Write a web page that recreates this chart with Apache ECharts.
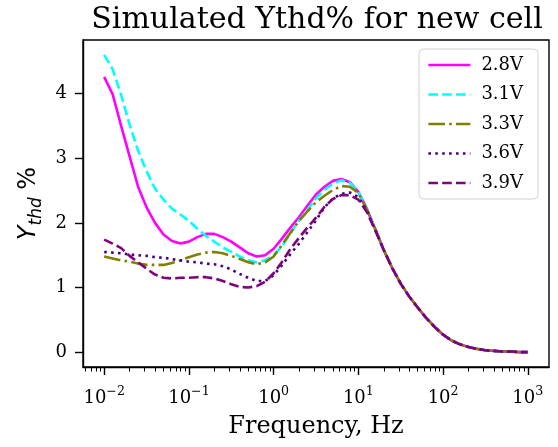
<!DOCTYPE html>
<html>
<head>
<meta charset="utf-8">
<script src="https://cdn.jsdelivr.net/npm/echarts@6/dist/echarts.min.js"></script>
<style>
  html, body { margin: 0; padding: 0; background: #fff; }
  #chart { width: 558px; height: 447px; }
</style>
</head>
<body>
<div id="chart"></div>
<script>
// frequency points, Hz (10 per decade)
const freq = [0.01, 0.01259, 0.01585, 0.01995, 0.02512, 0.03162, 0.03981, 0.05012, 0.0631, 0.07943,
  0.1, 0.1259, 0.1585, 0.1995, 0.2512, 0.3162, 0.3981, 0.5012, 0.631, 0.7943,
  1, 1.259, 1.585, 1.995, 2.512, 3.162, 3.981, 5.012, 6.31, 7.943,
  10, 12.59, 15.85, 19.95, 25.12, 31.62, 39.81, 50.12, 63.1, 79.43,
  100, 125.9, 158.5, 199.5, 251.2, 316.2, 398.1, 501.2, 631, 794.3, 1000];

// Ythd % per cell voltage
const y28 = [4.26, 3.99, 3.50, 3.03, 2.56, 2.24, 2.00, 1.82, 1.72, 1.68,
  1.71, 1.78, 1.83, 1.83, 1.78, 1.71, 1.62, 1.53, 1.48, 1.50,
  1.60, 1.76, 1.93, 2.09, 2.27, 2.44, 2.56, 2.65, 2.68, 2.63,
  2.48, 2.22, 1.90, 1.58, 1.30, 1.06, 0.86, 0.69, 0.53, 0.39,
  0.27, 0.18, 0.12, 0.08, 0.05, 0.03, 0.02, 0.01, 0.01, 0.0, 0.0];
const y31 = [4.60, 4.38, 3.98, 3.52, 3.12, 2.80, 2.53, 2.36, 2.22, 2.13,
  2.03, 1.91, 1.80, 1.71, 1.62, 1.55, 1.48, 1.42, 1.39, 1.42,
  1.50, 1.64, 1.84, 2.04, 2.20, 2.38, 2.51, 2.61, 2.66, 2.62,
  2.48, 2.22, 1.90, 1.58, 1.30, 1.06, 0.86, 0.69, 0.53, 0.39,
  0.27, 0.18, 0.12, 0.08, 0.05, 0.03, 0.02, 0.01, 0.01, 0.0, 0.0];
const y33 = [1.48, 1.45, 1.42, 1.40, 1.37, 1.35, 1.35, 1.35, 1.38, 1.42,
  1.47, 1.51, 1.54, 1.55, 1.53, 1.49, 1.44, 1.39, 1.36, 1.39,
  1.48, 1.66, 1.85, 2.03, 2.18, 2.32, 2.42, 2.51, 2.57, 2.56,
  2.46, 2.21, 1.90, 1.58, 1.30, 1.06, 0.86, 0.69, 0.53, 0.39,
  0.27, 0.18, 0.12, 0.08, 0.05, 0.03, 0.02, 0.01, 0.01, 0.0, 0.0];
const y36 = [1.55, 1.54, 1.53, 1.51, 1.50, 1.49, 1.47, 1.46, 1.44, 1.42,
  1.40, 1.39, 1.37, 1.36, 1.33, 1.28, 1.21, 1.15, 1.10, 1.10,
  1.19, 1.35, 1.52, 1.68, 1.86, 2.04, 2.24, 2.38, 2.45, 2.47,
  2.40, 2.19, 1.89, 1.58, 1.30, 1.06, 0.86, 0.69, 0.53, 0.39,
  0.27, 0.18, 0.12, 0.08, 0.05, 0.03, 0.02, 0.01, 0.01, 0.0, 0.0];
const y39 = [1.74, 1.68, 1.61, 1.49, 1.39, 1.29, 1.20, 1.15, 1.14, 1.15,
  1.15, 1.16, 1.16, 1.14, 1.10, 1.05, 1.01, 1.00, 1.02, 1.09,
  1.22, 1.40, 1.60, 1.77, 1.93, 2.08, 2.25, 2.37, 2.43, 2.43,
  2.36, 2.17, 1.88, 1.58, 1.30, 1.06, 0.86, 0.69, 0.53, 0.39,
  0.27, 0.18, 0.12, 0.08, 0.05, 0.03, 0.02, 0.01, 0.01, 0.0, 0.0];

const seriesNames = ['2.8V', '3.1V', '3.3V', '3.6V', '3.9V'];
const xTicks = [0.01, 0.1, 1, 10, 100, 1000];
const yTicks = [0, 1, 2, 3, 4];

const serif = 'DejaVu Serif';
const xMin = 0.005623, xMax = 1778.3;

const colors = ['#ff00ff', '#00ffff', '#808000', '#4b0082', '#800080'];
const dashes = ['solid', [9.6, 4.2], [16.6, 4.2, 2.6, 4.2], [2.6, 4.3], [9.6, 4.2]];

// minor ticks 2..9 x 10^n inside the axis range
const minorTicks = [];
for (let d = -3; d <= 3; d++) {
  for (let m = 2; m <= 9; m++) {
    const v = m * Math.pow(10, d);
    if (v >= xMin && v <= xMax) minorTicks.push(v);
  }
}

const line = (name, vals, color, type) => ({
  name: name,
  type: 'line',
  data: freq.map((f, i) => [f, vals[i]]),
  showSymbol: false,
  symbol: 'none',
  silent: true,
  animation: false,
  lineStyle: { color: color, width: 2.6, type: type, cap: 'butt' },
  itemStyle: { color: color }
});

const chart = echarts.init(document.getElementById('chart'));
chart.setOption({
  animation: false,
  title: {
    text: 'Simulated Ythd% for new cell',
    left: 312,
    top: 0,
    textAlign: 'center',
    textStyle: { fontFamily: serif, fontSize: 30, fontWeight: 'normal', color: '#000' }
  },
  grid: {
    left: 83, right: 9, top: 40, bottom: 80,
    show: true, borderColor: '#000', borderWidth: 1.4, backgroundColor: 'transparent'
  },
  legend: {
    right: 20,
    top: 49,
    orient: 'vertical',
    align: 'left',
    itemWidth: 42,
    itemHeight: 14,
    itemGap: 9.5,
    padding: [6, 15, 6, 8],
    backgroundColor: '#fff',
    borderColor: '#d0d0d0',
    borderWidth: 1,
    borderRadius: 4,
    itemStyle: { opacity: 0 },
    textStyle: { fontFamily: serif, fontSize: 18, color: '#000', lineHeight: 20, padding: [0, 0, 0, 6] },
    data: seriesNames.map((n, i) => ({
      name: n,
      itemStyle: { opacity: 0 },
      lineStyle: { color: colors[i], width: 2.6, type: dashes[i], opacity: 1 }
    }))
  },
  xAxis: [{
    type: 'log',
    logBase: 10,
    min: xMin,
    max: xMax,
    position: 'bottom',
    name: 'Frequency, Hz',
    nameLocation: 'middle',
    nameGap: 48,
    nameTextStyle: { fontFamily: serif, fontSize: 24, color: '#000' },
    axisLine: { onZero: false, lineStyle: { color: '#000', width: 1.4 } },
    axisTick: { customValues: xTicks, length: 8, lineStyle: { color: '#000', width: 1.4 } },
    axisLabel: {
      customValues: xTicks,
      margin: 22,
      formatter: v => {
        const e = Math.round(Math.log10(v));
        return '{b|10}{s|' + (e < 0 ? '\u2212' + (-e) : String(e)) + '}';
      },
      rich: {
        b: { fontFamily: serif, fontSize: 18, lineHeight: 18, color: '#000', verticalAlign: 'bottom' },
        s: { fontFamily: serif, fontSize: 12.6, lineHeight: 13, color: '#000', verticalAlign: 'bottom', padding: [0, 0, 9, 0] }
      }
    },
    splitLine: { show: false }
  }, {
    type: 'log',
    logBase: 10,
    min: xMin,
    max: xMax,
    position: 'bottom',
    axisLine: { show: false, onZero: false },
    axisTick: { customValues: minorTicks, length: 4.5, lineStyle: { color: '#000', width: 1 } },
    axisLabel: { show: false },
    splitLine: { show: false }
  }],
  yAxis: {
    type: 'value',
    min: -0.23,
    max: 4.83,
    name: '{y|Y}{s|thd}{p| %}',
    nameLocation: 'middle',
    nameGap: 40,
    nameTextStyle: {
      fontFamily: 'DejaVu Sans', fontSize: 24, color: '#000',
      rich: {
        y: { fontFamily: 'DejaVu Sans', fontSize: 24, fontStyle: 'italic', lineHeight: 24, verticalAlign: 'top', color: '#000' },
        s: { fontFamily: 'DejaVu Sans', fontSize: 17, fontStyle: 'italic', lineHeight: 17, verticalAlign: 'top', padding: [11, 0, 0, 0], color: '#000' },
        p: { fontFamily: 'DejaVu Sans', fontSize: 24, lineHeight: 24, verticalAlign: 'top', color: '#000' }
      }
    },
    axisLine: { show: true, onZero: false, lineStyle: { color: '#000', width: 1.4 } },
    axisTick: { show: true, customValues: yTicks, length: 8, lineStyle: { color: '#000', width: 1.4 } },
    axisLabel: { customValues: yTicks, margin: 16, fontFamily: serif, fontSize: 18, color: '#000' },
    splitLine: { show: false }
  },
  series: seriesNames.map((n, i) => line(n, [y28, y31, y33, y36, y39][i], colors[i], dashes[i]))
});
</script>
</body>
</html>
